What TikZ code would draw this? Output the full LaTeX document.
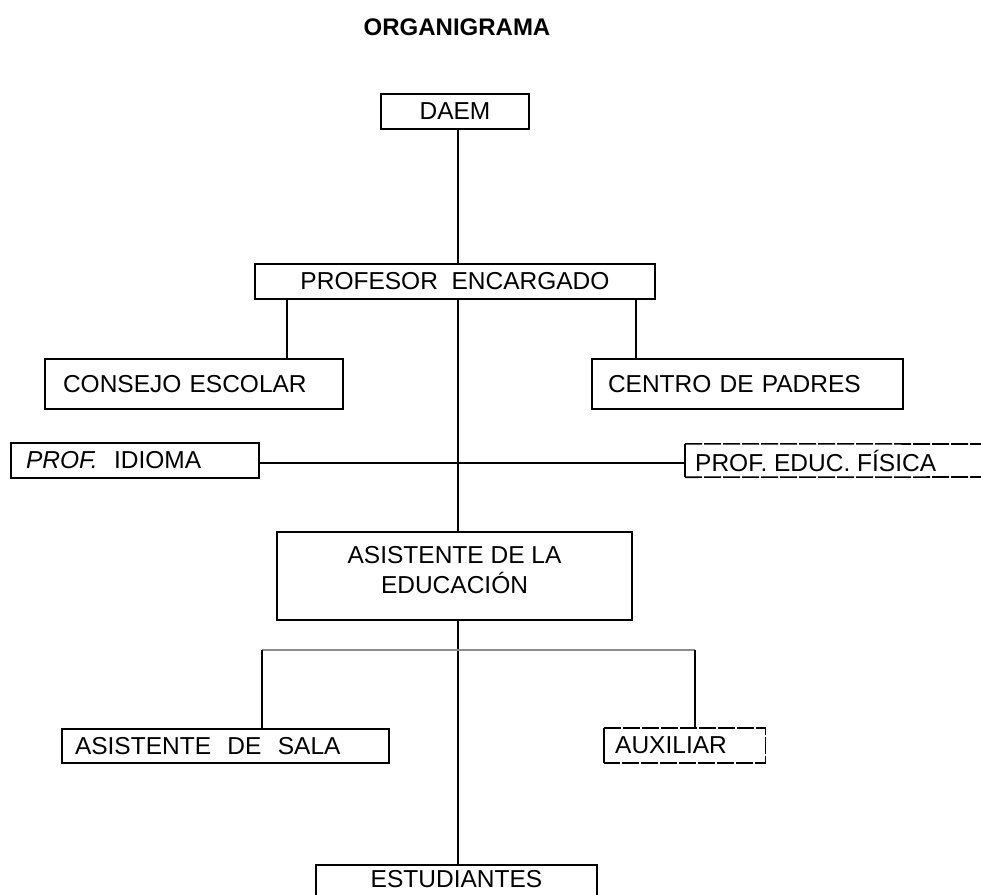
\documentclass[tikz,border=0pt]{standalone}
\usepackage{fontspec}
\setmainfont{Liberation Sans}
\begin{document}
\begin{tikzpicture}[x=1pt,y=-1pt,
  every node/.style={font=\fontsize{24.5}{30}\selectfont},
  orgbox/.style={draw, line width=1.6pt, inner ysep=0pt},
  conn/.style={line width=1.6pt},
  grayconn/.style={line width=2.2pt, draw=black!45},
  dashedge/.style={line width=1.6pt, dash pattern=on 17pt off 2pt}]
\useasboundingbox (0,0) rectangle (981,894);
\coordinate (spine) at (458,0);
% title
\node[font=\fontsize{24}{28}\selectfont\bfseries] (title) at (457,27) {ORGANIGRAMA};
% boxes
\node[orgbox, minimum width=148pt, minimum height=35pt] (daem) at (455,111.5) {DAEM};
\node[orgbox, minimum width=400pt, minimum height=35pt] (prof) at (455,281.5) {PROFESOR\ \ ENCARGADO};
\node[orgbox, minimum width=298pt, minimum height=50pt, inner xsep=18pt, text width=262pt, align=left] (consejo) at (194,384) {CONSEJO ESCOLAR};
\node[orgbox, minimum width=311pt, minimum height=50pt, inner xsep=16pt, text width=279pt, align=left] (centro) at (747.5,384) {CENTRO DE PADRES};
\node[orgbox, minimum width=248pt, minimum height=35pt, inner xsep=15pt, text width=218pt, align=left] (idioma) at (135,460.5) {\itshape PROF.\upshape\ \ IDIOMA};
\node[anchor=west, inner xsep=10pt, minimum height=33pt] (fisica) at (685,460.5) {PROF. EDUC. FÍSICA};
\node[orgbox, minimum width=355pt, minimum height=88pt, align=center] (asist) at (454.5,576) {ASISTENTE DE LA\\EDUCACIÓN\\[-18pt]};
\node[orgbox, minimum width=327pt, minimum height=34pt, inner xsep=13pt, text width=301pt, align=left] (sala) at (225.5,746) {ASISTENTE\ \ DE\ \ SALA};
\node[anchor=west, inner xsep=11pt, minimum height=35pt, minimum width=161pt, text width=139pt, align=left] (aux) at (604,745.5) {AUXILIAR};
\node[orgbox, minimum width=281pt, minimum height=60pt, anchor=north] (estud) at (456.5,864) {};
\node[anchor=center, inner sep=0pt] (estudtxt) at (456.5,879) {ESTUDIANTES};
% dashed boxes
\draw[line width=2.2pt] (fisica.north west) -- (fisica.south west);
\draw[dashedge] (fisica.north west) -- (990,444);
\draw[dashedge] (fisica.south west) -- (990,477);
\draw[line width=2.2pt] (aux.north west) -- (aux.south west);
\draw[dashedge] (aux.north west) -- (aux.north east) -- (aux.south east) -- (aux.south west);
% connectors
\draw[conn] (daem.south -| spine) -- (prof.north -| spine);
\draw[conn] (prof.south -| spine) -- (asist.north -| spine);
\draw[conn] (asist.south -| spine) -- (estud.north -| spine);
\draw[conn] (prof.south -| consejo.north) ++(93,0) coordinate (cL) -- (cL |- consejo.north);
\draw[conn] (636,0 |- prof.south) coordinate (cR) -- (cR |- centro.north);
\draw[conn] (idioma.east |- 0,463) -- (fisica.west |- 0,463);
\coordinate (gL) at (262,650);
\coordinate (gR) at (695,650);
\draw[grayconn] (gL) -- (gR);
\draw[conn] (gL) -- (gL |- sala.north);
\draw[conn] (gR) -- (gR |- aux.north);
\end{tikzpicture}
\end{document}
